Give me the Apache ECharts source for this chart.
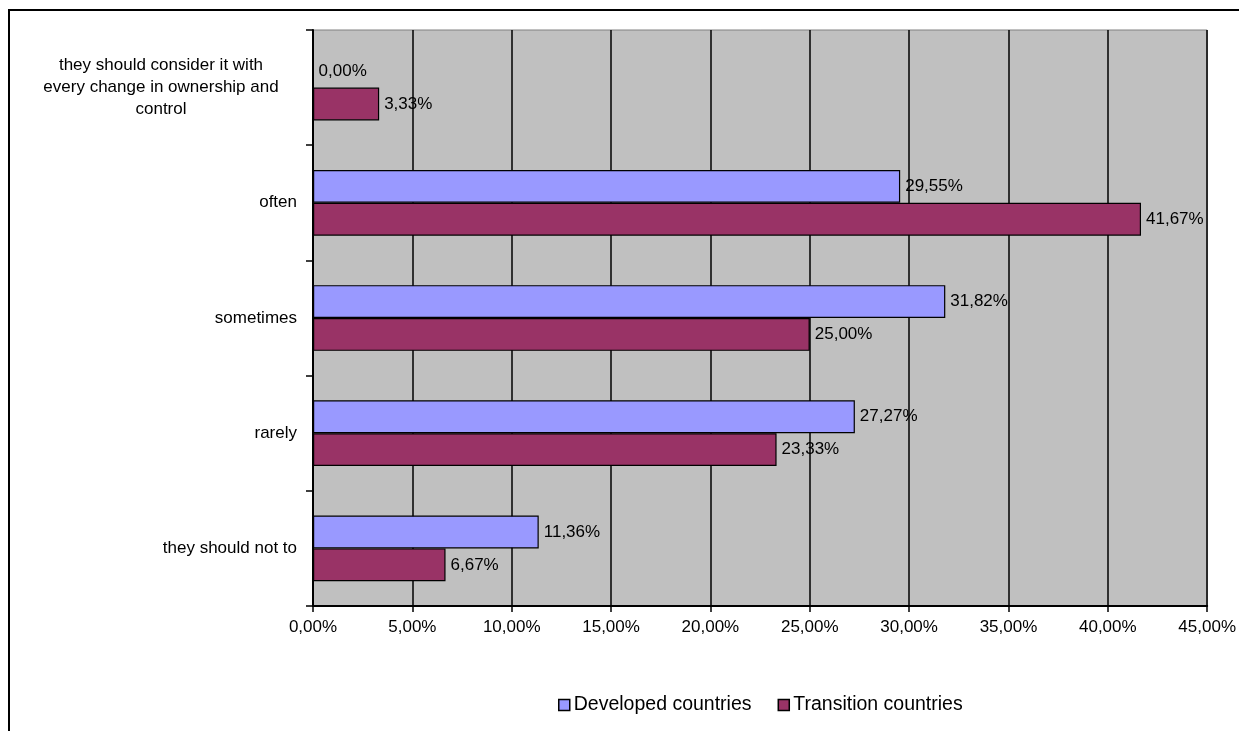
<!DOCTYPE html>
<html>
<head>
<meta charset="utf-8">
<script src="https://cdn.jsdelivr.net/npm/echarts@6/dist/echarts.min.js"></script>
<style>
html,body{margin:0;padding:0;background:#fff;}
#c{width:1239px;height:731px;}
</style>
</head>
<body>
<div id="c"></div>
<script>
var categories = [
  "they should consider it with\nevery change in ownership and\ncontrol",
  "often",
  "sometimes",
  "rarely",
  "they should not to"
];
var developed = [0.00, 29.55, 31.82, 27.27, 11.36];
var transition = [3.33, 41.67, 25.00, 23.33, 6.67];
var seriesNames = ["Developed countries", "Transition countries"];

function pct(v) { return v.toFixed(2).replace('.', ',') + '%'; }

var FONT = '"Liberation Sans", Arial, sans-serif';
var chart = echarts.init(document.getElementById('c'), null, {renderer: 'canvas'});

var labelCfg = {
  show: true,
  position: 'right',
  distance: 5,
  color: '#000',
  fontFamily: FONT,
  fontSize: 17,
  formatter: function (p) { return pct(p.value); }
};

chart.setOption({
  animation: false,
  backgroundColor: '#fff',
  textStyle: {fontFamily: FONT},
  graphic: [{
    type: 'rect',
    shape: {x: 9, y: 10, width: 1400, height: 900},
    style: {fill: 'none', stroke: '#000', lineWidth: 2},
    silent: true,
    z: -10
  }],
  grid: {
    left: 313, right: 31, top: 30, bottom: 125,
    show: true,
    backgroundColor: '#c0c0c0',
    borderColor: '#808080',
    borderWidth: 1
  },
  legend: {
    bottom: 11,
    left: 553,
    itemWidth: 11,
    itemHeight: 11,
    itemGap: 26,
    textStyle: {fontFamily: FONT, fontSize: 19.5, color: '#000', padding: [0, 0, 0, -1]},
    data: seriesNames.map(function (n) { return {name: n, icon: 'rect', itemStyle: {borderColor: '#000', borderWidth: 1.5}}; })
  },
  xAxis: {
    type: 'value',
    min: 0, max: 45, interval: 5,
    axisLine: {show: true, lineStyle: {color: '#000', width: 2}},
    axisTick: {show: true, length: 6, lineStyle: {color: '#000', width: 1.5}},
    splitLine: {show: true, lineStyle: {color: '#000', width: 1.5}},
    axisLabel: {
      margin: 13,
      color: '#000',
      fontFamily: FONT,
      fontSize: 17,
      formatter: function (v) { return pct(v); }
    }
  },
  yAxis: {
    type: 'category',
    inverse: true,
    data: categories,
    axisLine: {show: true, lineStyle: {color: '#000', width: 2}},
    axisTick: {show: true, length: 7, lineStyle: {color: '#000', width: 1.5}},
    splitLine: {show: false},
    axisLabel: {
      margin: 16,
      color: '#000',
      fontFamily: FONT,
      fontSize: 17,
      lineHeight: 22,
      formatter: function (v) {
        if (v.indexOf('\n') >= 0) {
          return v.split('\n').map(function (s) { return '{c|' + s + '}'; }).join('\n');
        }
        return v;
      },
      rich: {
        c: {width: 272, align: 'center', fontFamily: FONT, fontSize: 17, color: '#000', lineHeight: 22}
      }
    }
  },
  series: [{
    name: seriesNames[0],
    type: 'bar',
    data: developed,
    barGap: '0%',
    barCategoryGap: '43%',
    itemStyle: {color: '#9999ff', borderColor: '#000', borderWidth: 1.2},
    label: labelCfg
  }, {
    name: seriesNames[1],
    type: 'bar',
    data: transition,
    barGap: '0%',
    barCategoryGap: '43%',
    itemStyle: {color: '#993366', borderColor: '#000', borderWidth: 1.2},
    label: labelCfg
  }]
});
</script>
</body>
</html>
